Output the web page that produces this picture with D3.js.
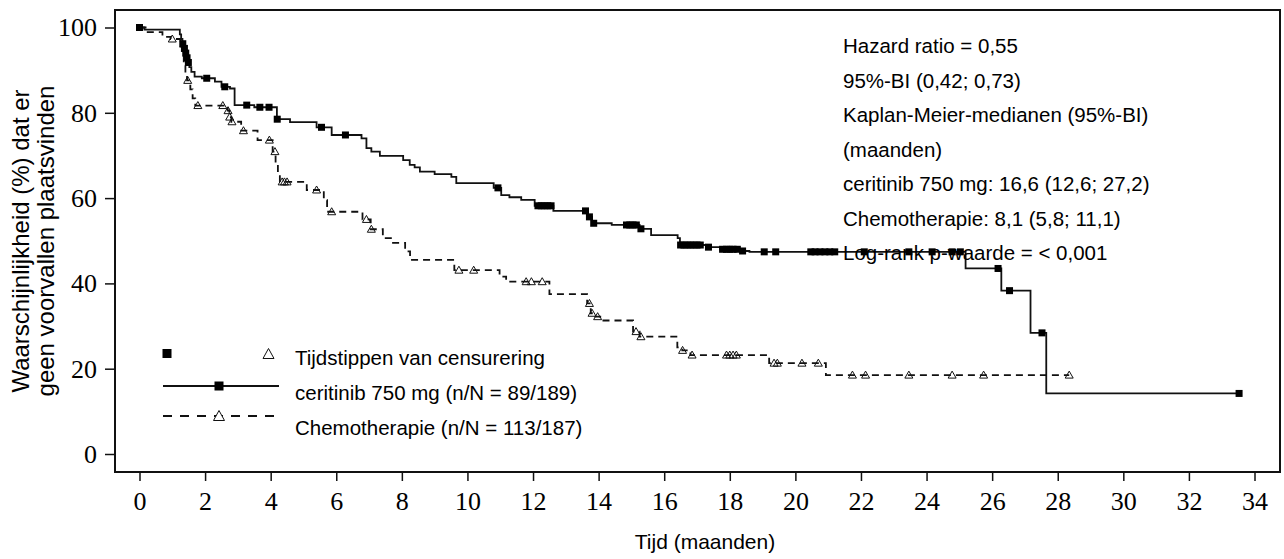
<!DOCTYPE html>
<html>
<head>
<meta charset="utf-8">
<script src="https://cdn.jsdelivr.net/npm/d3@7"></script>
<style>
  html, body { margin: 0; padding: 0; background: #fff; }
  svg { display: block; }
</style>
</head>
<body>
<svg id="chart" width="1284" height="559"></svg>
<script>
// ---- Data ----
// Kaplan-Meier step points: time (months) and survival (%) after the step
const ceritinibTimes = [0, 0.15, 1.23, 1.27, 1.31, 1.35, 1.39, 1.43, 1.47, 1.52, 1.58, 1.68, 1.9, 2.3, 2.5, 2.76, 2.9, 3.5, 4.19, 4.59, 5.4, 5.86, 6.77, 6.92, 7.07, 7.33, 8.04, 8.24, 8.39, 8.55, 9.0, 9.51, 9.66, 10.8, 11.03, 11.28, 11.64, 12.05, 12.62, 13.68, 13.8, 14.4, 15.25, 15.6, 16.41, 16.48, 17.3, 17.7, 18.35, 18.6, 25.19, 26.28, 27.17, 27.65];
const ceritinibSurv  = [100, 99.5, 98.4, 97.3, 96.2, 95.1, 94.0, 92.9, 91.8, 90.7, 89.6, 88.5, 88.1, 87.3, 86.1, 85.7, 81.8, 81.3, 78.5, 77.8, 76.6, 74.8, 74.0, 71.7, 70.9, 69.9, 68.9, 67.8, 67.2, 66.2, 65.6, 65.0, 63.5, 62.4, 60.7, 60.2, 59.6, 58.2, 57.0, 55.6, 54.1, 53.7, 52.8, 51.3, 50.6, 49.0, 48.5, 48.0, 47.6, 47.4, 43.5, 38.3, 28.4, 14.2];
const ceritinibCensor = [0, 1.32, 1.37, 1.41, 1.45, 1.49, 2.05, 2.6, 3.27, 3.67, 3.95, 4.2, 5.55, 6.28, 10.93, 12.15, 12.25, 12.35, 12.45, 12.55, 13.6, 13.72, 13.85, 14.85, 14.95, 15.05, 15.15, 15.29, 16.5, 16.6, 16.7, 16.8, 16.9, 17.0, 17.1, 17.35, 17.78, 17.9, 18.0, 18.1, 18.23, 18.39, 19.05, 19.4, 20.47, 20.6, 20.75, 20.9, 21.05, 21.2, 22.1, 23.46, 24.17, 24.78, 25.03, 26.18, 26.53, 27.52, 33.53];

const chemoTimes = [0, 0.25, 0.7, 0.95, 1.25, 1.3, 1.35, 1.4, 1.45, 1.55, 1.62, 1.7, 2.69, 2.74, 2.8, 3.1, 3.6, 4.06, 4.15, 4.22, 4.28, 5.1, 5.62, 5.72, 6.8, 7.05, 7.42, 7.7, 8.1, 8.25, 9.6, 10.98, 11.18, 12.5, 13.65, 13.76, 13.9, 14.05, 15.05, 15.25, 16.4, 16.55, 16.8, 19.2, 20.93];
const chemoSurv  = [100, 98.9, 97.8, 97.3, 95.5, 93.4, 91.3, 89.2, 87.6, 85.5, 83.4, 81.7, 80.5, 79.0, 77.9, 75.8, 73.6, 70.9, 68.2, 65.8, 63.8, 61.9, 59.5, 56.8, 55.0, 52.7, 50.6, 49.5, 47.5, 45.5, 43.1, 41.6, 40.4, 37.5, 35.3, 33.0, 32.2, 31.3, 28.7, 27.5, 25.0, 24.3, 23.2, 21.3, 18.5];
const chemoCensor = [1.0, 1.47, 1.78, 2.54, 2.7, 2.75, 2.82, 3.17, 3.96, 4.13, 4.35, 4.42, 4.5, 5.4, 5.86, 6.92, 7.07, 9.74, 10.19, 11.79, 11.95, 12.28, 13.72, 13.8, 13.97, 15.14, 15.29, 16.56, 16.85, 17.9, 18.0, 18.1, 18.2, 19.35, 19.45, 20.2, 20.7, 21.74, 22.14, 23.46, 24.78, 25.74, 28.35];

const xTicks = [0, 2, 4, 6, 8, 10, 12, 14, 16, 18, 20, 22, 24, 26, 28, 30, 32, 34];
const yTicks = [0, 20, 40, 60, 80, 100];

const xTitle = "Tijd (maanden)";
const yTitleLines = ["Waarschijnlijkheid (%) dat er", "geen voorvallen plaatsvinden"];
const annotationLines = [
  "Hazard ratio = 0,55",
  "95%-BI (0,42; 0,73)",
  "Kaplan-Meier-medianen (95%-BI)",
  "(maanden)",
  "ceritinib 750 mg: 16,6 (12,6; 27,2)",
  "Chemotherapie: 8,1 (5,8; 11,1)",
  "Log-rank p-waarde = < 0,001"
];
const legendLabels = ["Tijdstippen van censurering", "ceritinib 750 mg (n/N = 89/189)", "Chemotherapie (n/N = 113/187)"];

// ---- Layout ----
const frame = { left: 115, right: 1280, top: 10, bottom: 472 };
const sans = "'Liberation Sans', Arial, sans-serif";
const serif = "'Liberation Serif', 'Times New Roman', serif";

const svg = d3.select("#chart");

const x = d3.scaleLinear().domain([0, 34]).range([139.5, 1254.5]);
const y = d3.scaleLinear().domain([0, 100]).range([454, 27.5]);

// Frame
svg.append("rect")
  .attr("x", frame.left).attr("y", frame.top)
  .attr("width", frame.right - frame.left).attr("height", frame.bottom - frame.top)
  .attr("fill", "none").attr("stroke", "#111").attr("stroke-width", 2);

// Axes
const xAxis = svg.append("g")
  .attr("transform", `translate(0,${frame.bottom})`)
  .call(d3.axisBottom(x).tickValues(xTicks).tickSize(9).tickPadding(11).tickSizeOuter(0));
xAxis.select(".domain").remove();
xAxis.selectAll("line").attr("stroke", "#111").attr("stroke-width", 1.5);
xAxis.selectAll("text").attr("font-family", serif).attr("font-size", 26).attr("fill", "#000");

const yAxis = svg.append("g")
  .attr("transform", `translate(${frame.left},0)`)
  .call(d3.axisLeft(y).tickValues(yTicks).tickSize(10).tickPadding(8).tickSizeOuter(0));
yAxis.select(".domain").remove();
yAxis.selectAll("line").attr("stroke", "#111").attr("stroke-width", 1.5);
yAxis.selectAll("text").attr("font-family", serif).attr("font-size", 26).attr("fill", "#000");

// Titles
svg.append("text")
  .attr("x", 705).attr("y", 549)
  .attr("text-anchor", "middle")
  .attr("font-family", sans).attr("font-size", 21)
  .text(xTitle);

const yMid = (frame.top + frame.bottom) / 2;
yTitleLines.forEach((t, i) => {
  svg.append("text")
    .attr("transform", `translate(${29 + i * 25},${yMid}) rotate(-90)`)
    .attr("text-anchor", "middle")
    .attr("font-family", sans).attr("font-size", 24)
    .text(t);
});

// KM curves
function stepData(times, surv, endT) {
  const d = times.map((t, i) => [t, surv[i]]);
  d.push([endT, surv[surv.length - 1]]);
  return d;
}
function survAt(times, surv, t) {
  let s = surv[0];
  for (let i = 0; i < times.length; i++) { if (times[i] <= t) s = surv[i]; }
  return s;
}
const line = d3.line().x(d => x(d[0])).y(d => y(d[1])).curve(d3.curveStepAfter);

const chemoEnd = d3.max(chemoCensor);
const ceritinibEnd = d3.max(ceritinibCensor);

svg.append("path")
  .datum(stepData(chemoTimes, chemoSurv, chemoEnd))
  .attr("d", line).attr("fill", "none")
  .attr("stroke", "#111").attr("stroke-width", 1.8).attr("stroke-dasharray", "7,5");

svg.append("path")
  .datum(stepData(ceritinibTimes, ceritinibSurv, ceritinibEnd))
  .attr("d", line).attr("fill", "none")
  .attr("stroke", "#111").attr("stroke-width", 1.8);

const tri = (cx, cy, w, h) => `M${cx - w / 2},${cy + h / 2}L${cx},${cy - h / 2}L${cx + w / 2},${cy + h / 2}Z`;

svg.append("g").selectAll("path")
  .data(chemoCensor)
  .join("path")
  .attr("d", t => tri(x(t), y(survAt(chemoTimes, chemoSurv, t)) - 0.5, 8, 7))
  .attr("fill", "none").attr("stroke", "#111").attr("stroke-width", 1);

svg.append("g").selectAll("rect")
  .data(ceritinibCensor)
  .join("rect")
  .attr("x", t => x(t) - 3.5)
  .attr("y", t => y(survAt(ceritinibTimes, ceritinibSurv, t)) - 3.5)
  .attr("width", 7).attr("height", 7)
  .attr("fill", "#000");

// Legend
const lg = svg.append("g");
lg.append("rect").attr("x", 162.5).attr("y", 349).attr("width", 9).attr("height", 9).attr("fill", "#000");
lg.append("path").attr("d", tri(268.5, 353.5, 11, 10)).attr("fill", "none").attr("stroke", "#111").attr("stroke-width", 1);
lg.append("line").attr("x1", 163).attr("x2", 279).attr("y1", 386).attr("y2", 386)
  .attr("stroke", "#111").attr("stroke-width", 2);
lg.append("rect").attr("x", 214.5).attr("y", 381.5).attr("width", 9).attr("height", 9).attr("fill", "#000");
lg.append("line").attr("x1", 163).attr("x2", 279).attr("y1", 416).attr("y2", 416)
  .attr("stroke", "#111").attr("stroke-width", 2).attr("stroke-dasharray", "9,8");
lg.append("path").attr("d", tri(219, 415.5, 11, 10)).attr("fill", "#fff").attr("stroke", "#111").attr("stroke-width", 1);

const legendY = [365, 400, 435];
legendLabels.forEach((t, i) => {
  lg.append("text").attr("x", 295).attr("y", legendY[i])
    .attr("font-family", sans).attr("font-size", 20.5).text(t);
});

// Annotation
annotationLines.forEach((t, i) => {
  svg.append("text").attr("x", 843).attr("y", 53 + i * 34.5)
    .attr("font-family", sans).attr("font-size", 20.5).text(t);
});
</script>
</body>
</html>
